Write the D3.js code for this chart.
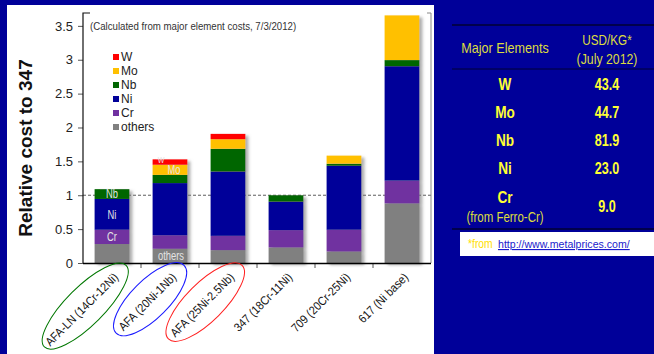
<!DOCTYPE html>
<html>
<head>
<meta charset="utf-8">
<script src="https://cdn.jsdelivr.net/npm/d3@7"></script>
<style>
  html, body { margin: 0; padding: 0; background: #000099; }
  svg { display: block; }
  .sans { font-family: "Liberation Sans", Arial, sans-serif; }
</style>
</head>
<body>
<svg id="chart" width="654" height="354"></svg>
<script>
// Alloy categories and cost contributions (relative to 347) per element
const categories = ["AFA-LN (14Cr-12Ni)", "AFA (20Ni-1Nb)", "AFA (25Ni-2.5Nb)", "347 (18Cr-11Ni)", "709 (20Cr-25Ni)", "617 (Ni base)"];
const others = [0.28, 0.21, 0.19, 0.23, 0.17, 0.88];
const cr     = [0.21, 0.20, 0.21, 0.255, 0.32, 0.335];
const ni     = [0.455, 0.77, 0.95, 0.42, 0.945, 1.69];
const nb     = [0.145, 0.12, 0.335, 0.095, 0.03, 0.09];
const mo     = [0, 0.15, 0.143, 0, 0.12, 0.66];
const w      = [0, 0.08, 0.078, 0, 0, 0];
const seriesKeys = ["others", "Cr", "Ni", "Nb", "Mo", "W"];
const seriesValues = { others: others, Cr: cr, Ni: ni, Nb: nb, Mo: mo, W: w };
const seriesColors = { others: "#808080", Cr: "#7030A0", Ni: "#000099", Nb: "#006600", Mo: "#FFC000", W: "#FF0000" };
const legendOrder = ["W", "Mo", "Nb", "Ni", "Cr", "others"];
const yTicks = [0, 0.5, 1, 1.5, 2, 2.5, 3, 3.5];
const yMax = 3.69;
const circled = [0, 1, 2];
const circleColors = ["#007700", "#1a1aff", "#ff2020"];

// Price table
const elements = ["W", "Mo", "Nb", "Ni", "Cr"];
const elementNotes = ["", "", "", "", "(from Ferro-Cr)"];
const prices = ["43.4", "44.7", "81.9", "23.0", "9.0"];

const svg = d3.select("#chart");

// squeeze a text horizontally to mimic a condensed face
function condense(sel, factor) {
  sel.each(function () {
    const len = this.getComputedTextLength();
    d3.select(this).attr("textLength", len * factor).attr("lengthAdjust", "spacingAndGlyphs");
  });
  return sel;
}

// background panel
svg.append("rect").attr("x", 7).attr("y", 5).attr("width", 427).attr("height", 349).attr("fill", "#fff");

const x = d3.scaleBand().domain(categories).range([83, 431]).paddingInner(0.4).paddingOuter(0.2);
const y = d3.scaleLinear().domain([0, yMax]).range([263, 13]);

// stacked data
const rows = categories.map((c, i) => {
  const r = { cat: c };
  seriesKeys.forEach(k => r[k] = seriesValues[k][i]);
  return r;
});
const stacked = d3.stack().keys(seriesKeys)(rows);

// drop shadow for bars
const defs = svg.append("defs");
const f = defs.append("filter").attr("id", "shadow").attr("x", "-20%").attr("y", "-10%").attr("width", "150%").attr("height", "130%");
f.append("feDropShadow").attr("dx", 3).attr("dy", 2).attr("stdDeviation", 1.6)
  .attr("flood-color", "#777").attr("flood-opacity", 0.6);

// reference line at 1
svg.append("line").attr("x1", 83).attr("x2", 431).attr("y1", y(1)).attr("y2", y(1))
  .attr("stroke", "#333").attr("stroke-dasharray", "3,2").attr("stroke-width", 0.8);

const barsG = svg.append("g");
categories.forEach((c, i) => {
  const g = barsG.append("g").attr("filter", "url(#shadow)");
  stacked.forEach(s => {
    const d = s[i];
    if (d[1] - d[0] <= 0) return;
    g.append("rect")
      .attr("x", x(c)).attr("width", x.bandwidth())
      .attr("y", y(d[1])).attr("height", y(d[0]) - y(d[1]))
      .attr("fill", seriesColors[s.key]);
  });
});

// in-bar labels
const inLabels = [
  { cat: 0, key: "Nb", text: "Nb", dx: 0 },
  { cat: 0, key: "Ni", text: "Ni", dx: 0 },
  { cat: 0, key: "Cr", text: "Cr", dx: 0 },
  { cat: 1, key: "W", text: "W", dx: -9 },
  { cat: 1, key: "Mo", text: "Mo", dx: 4 },
  { cat: 1, key: "others", text: "others", dx: 1 }
];
inLabels.forEach(l => {
  const s = stacked.find(s => s.key === l.key)[l.cat];
  const t = svg.append("text").attr("class", "sans")
    .attr("x", x(categories[l.cat]) + x.bandwidth() / 2 + l.dx)
    .attr("y", (y(s[0]) + y(s[1])) / 2)
    .attr("dy", l.key === "W" ? "0.1em" : "0.35em")
    .attr("text-anchor", "middle")
    .attr("font-size", l.key === "W" ? 9 : 12)
    .attr("fill", "#e4e4e4").text(l.text);
  condense(t, 0.78);
});

// y axis
const yAxis = svg.append("g").attr("transform", "translate(83,0)")
  .call(d3.axisLeft(y).tickValues(yTicks).tickFormat(d => String(d)).tickSize(5).tickSizeOuter(0));
yAxis.select(".domain").remove();
yAxis.selectAll(".tick line").attr("stroke", "#555");
yAxis.selectAll(".tick text").attr("class", "sans").attr("font-size", 13).attr("fill", "#222").attr("x", -10);
svg.append("path").attr("d", "M90,13H83V263").attr("fill", "none").attr("stroke", "#111").attr("stroke-width", 1.2);
svg.append("path").attr("d", "M427,13H431V263").attr("fill", "none").attr("stroke", "#888").attr("stroke-width", 1);

// x axis
const xTickPos = d3.range(categories.length + 1).map(i => 83 + i * (348 / categories.length));
svg.selectAll(".xt").data(xTickPos.slice(1, -1)).join("line")
  .attr("x1", d => d).attr("x2", d => d).attr("y1", 263).attr("y2", 268).attr("stroke", "#555");
svg.append("line").attr("x1", 83).attr("x2", 431).attr("y1", 263.5).attr("y2", 263.5)
  .attr("stroke", "#000").attr("stroke-width", 1.6);

// rotated category labels
categories.forEach((c, i) => {
  const g = svg.append("g")
    .attr("transform", `translate(${x(c) + x.bandwidth() / 2 + 7},${278}) rotate(-45)`);
  const t = g.append("text").attr("class", "sans").attr("text-anchor", "end")
    .attr("font-size", 12).attr("fill", "#111").text(c);
  condense(t, 0.9);
  const ci = circled.indexOf(i);
  if (ci >= 0) {
    const len = t.node().getComputedTextLength() * 0.9;
    g.append("ellipse").attr("cx", -len / 2).attr("cy", -4)
      .attr("rx", len / 2 + 14).attr("ry", 19)
      .attr("fill", "none").attr("stroke", circleColors[ci]).attr("stroke-width", 1);
  }
});

// y title
svg.append("text").attr("class", "sans")
  .attr("transform", "translate(32,148) rotate(-90)")
  .attr("text-anchor", "middle").attr("font-size", 19).attr("font-weight", "bold")
  .attr("fill", "#111").text("Relative cost to 347");

// note
condense(svg.append("text").attr("class", "sans").attr("x", 90).attr("y", 30)
  .attr("font-size", 11.5).attr("fill", "#333")
  .text("(Calculated from major element costs, 7/3/2012)"), 0.84);

// legend
const lg = svg.append("g");
legendOrder.forEach((k, i) => {
  const yy = 57 + i * 14;
  lg.append("rect").attr("x", 113).attr("y", yy - 3).attr("width", 6).attr("height", 6).attr("fill", seriesColors[k]);
  lg.append("text").attr("class", "sans").attr("x", 121).attr("y", yy).attr("dy", "0.35em")
    .attr("font-size", 12).attr("fill", "#222").text(k);
});

// price table
const tb = svg.append("g");
tb.append("line").attr("x1", 452).attr("x2", 654).attr("y1", 25).attr("y2", 25).attr("stroke", "#000033").attr("stroke-width", 1.5);
tb.append("line").attr("x1", 452).attr("x2", 654).attr("y1", 69).attr("y2", 69).attr("stroke", "#000033").attr("stroke-width", 1);
tb.append("line").attr("x1", 452).attr("x2", 654).attr("y1", 229).attr("y2", 229).attr("stroke", "#000033").attr("stroke-width", 1.5);
const col1 = 505, col2 = 607;
const headerFill = "#DCDC40", rowFill = "#FFFF33";
condense(tb.append("text").attr("class", "sans").attr("x", col1).attr("y", 53).attr("text-anchor", "middle")
  .attr("font-size", 15).attr("fill", headerFill).text("Major Elements"), 0.84);
condense(tb.append("text").attr("class", "sans").attr("x", col2).attr("y", 45).attr("text-anchor", "middle")
  .attr("font-size", 15).attr("fill", headerFill).text("USD/KG*"), 0.78);
condense(tb.append("text").attr("class", "sans").attr("x", col2).attr("y", 64).attr("text-anchor", "middle")
  .attr("font-size", 15).attr("fill", headerFill).text("(July 2012)"), 0.82);
elements.forEach((e, i) => {
  const hasNote = !!elementNotes[i];
  const yy = hasNote ? 197 : 84 + i * 28;
  condense(tb.append("text").attr("class", "sans").attr("x", col1).attr("y", yy).attr("dy", "0.35em")
    .attr("text-anchor", "middle").attr("font-size", 17).attr("font-weight", "bold")
    .attr("fill", rowFill).text(e), 0.8);
  if (hasNote) {
    condense(tb.append("text").attr("class", "sans").attr("x", col1).attr("y", 217).attr("dy", "0.35em")
      .attr("text-anchor", "middle").attr("font-size", 14).attr("fill", headerFill).text(elementNotes[i]), 0.82);
  }
  condense(tb.append("text").attr("class", "sans").attr("x", col2).attr("y", hasNote ? 206 : yy).attr("dy", "0.35em")
    .attr("text-anchor", "middle").attr("font-size", 17).attr("font-weight", "bold")
    .attr("fill", rowFill).text(prices[i]), 0.74);
});

// source note
tb.append("rect").attr("x", 460).attr("y", 232).attr("width", 194).attr("height", 24).attr("fill", "#fff");
condense(tb.append("text").attr("class", "sans").attr("x", 468).attr("y", 248).attr("font-size", 12)
  .attr("fill", "#FFE000").text("*from"), 0.86);
condense(tb.append("text").attr("class", "sans").attr("x", 498).attr("y", 248).attr("font-size", 11.5)
  .attr("fill", "#1a1acc").attr("text-decoration", "underline").text("http://www.metalprices.com/"), 0.92);
</script>
</body>
</html>
